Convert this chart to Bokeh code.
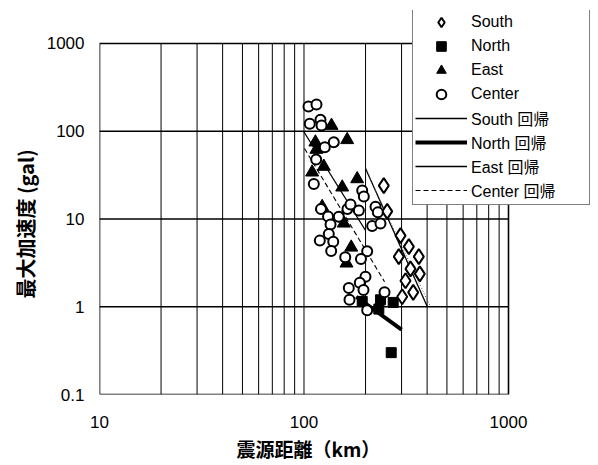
from bokeh.plotting import figure
from bokeh.models import FixedTicker, Legend, LegendItem, Title
from bokeh.embed import file_html
from bokeh.resources import INLINE

# ---- data ----
south_x = [245.6, 255.2, 296.5, 325.6, 364.3, 290.8, 331.7, 368.4, 313.5, 342.0, 302.1]
south_y = [24.0, 12.2, 6.47, 4.85, 3.73, 3.73, 2.70, 2.37, 1.98, 1.46, 1.30]

north_x = [192.6, 236.6, 232.2, 273.0, 267.0]
north_y = [1.15, 1.20, 0.94, 1.12, 0.30]

east_x = [136.3, 162.6, 113.7, 115.0, 125.0, 109.6, 153.8, 182.0, 122.7, 156.5, 170.2, 161.4]
east_y = [116.0, 79.8, 75.0, 61.8, 39.6, 34.1, 23.0, 28.6, 13.8, 8.93, 4.75, 3.13]

center_x = [105.2, 115.1, 106.7, 120.4, 121.8, 139.9, 126.4, 114.7, 111.7, 192.6,
            196.1, 121.1, 131.1, 163.2, 185.4, 148.0, 223.7, 229.6, 215.5, 236.6,
            134.8, 132.2, 119.5, 139.0, 135.8, 203.7, 189.9, 159.1, 199.8, 187.4,
            165.6, 195.4, 166.9, 203.7, 247.6, 168.8]
center_y = [191.3, 201.6, 121.5, 134.9, 116.1, 74.9, 65.7, 47.6, 25.1, 21.1,
            18.0, 13.0, 10.7, 13.0, 12.5, 10.6, 13.8, 11.9, 8.3, 8.86,
            8.63, 6.73, 5.67, 5.52, 4.31, 4.28, 3.51, 3.66, 2.20, 1.88,
            1.64, 1.55, 1.20, 0.91, 1.46, 14.6]

south_reg_x = [200, 401]
south_reg_y = [37.6, 1.0]
north_reg_x = [180, 300]
north_reg_y = [1.30, 0.55]
east_reg_x = [100, 200]
east_reg_y = [98, 7.4]
center_reg_x = [100.6, 247.6]
center_reg_y = [63.5, 1.93]
extra_dotted_x = [202, 415]
extra_dotted_y = [35, 1.0]

x_ticks = [10, 100, 1000]
x_minor = [20, 30, 40, 50, 60, 70, 80, 90, 200, 300, 400, 500, 600, 700, 800, 900]
y_ticks = [0.1, 1, 10, 100, 1000]
x_lim = [10, 1000]
y_lim = [0.1, 1000]

legend_labels = ["South", "North", "East", "Center",
                 "South 回帰", "North 回帰", "East 回帰", "Center 回帰"]

x_title = "震源距離（km）"
y_title = "最大加速度 (gal)"

# ---- figure ----
# the frame is extended to the upper right so that the legend (which sits partly
# outside the plotting box in the reference) is not clipped; the box itself is drawn.
p = figure(width=598, height=465, x_axis_type="log", y_axis_type="log",
           x_range=(10, 2575), y_range=(0.1, 2377),
           output_backend="svg", toolbar_location=None,
           min_border_left=99, min_border_right=6,
           min_border_top=10, min_border_bottom=71)
p.background_fill_color = "white"
p.border_fill_color = "white"
p.outline_line_color = None
p.xgrid.visible = False
p.ygrid.visible = False

p.xaxis.ticker = FixedTicker(ticks=x_ticks, minor_ticks=[])
p.yaxis.ticker = FixedTicker(ticks=y_ticks, minor_ticks=[])
p.xaxis.major_label_overrides = {10: "10", 100: "100", 1000: "1000"}
p.yaxis.major_label_overrides = {0.1: "0.1", 1: "1", 10: "10", 100: "100", 1000: "1000"}

for ax in (p.xaxis, p.yaxis):
    ax.major_tick_out = 0
    ax.major_tick_in = 0
    ax.minor_tick_out = 0
    ax.minor_tick_in = 0
    ax.axis_line_color = None
    ax.major_label_text_font = "Liberation Sans"
    ax.major_label_text_font_size = "17px"
    ax.major_label_text_color = "black"

p.xaxis.major_label_standoff = 21
p.yaxis.major_label_standoff = 15

p.add_layout(Title(text=x_title, align="left", offset=137, standoff=4,
                   text_font="Noto Sans CJK JP", text_font_size="19px",
                   text_font_style="bold", text_color="black"), "below")
p.add_layout(Title(text=y_title, align="left", offset=96, standoff=8,
                   text_font="Noto Sans CJK JP", text_font_size="20px",
                   text_font_style="bold", text_color="black"), "left")

# ---- grid and box ----
x_grid = x_ticks[1:-1] + x_minor
y_grid = y_ticks[1:-1]
p.segment(x0=x_grid, y0=[y_lim[0]] * len(x_grid), x1=x_grid, y1=[y_lim[1]] * len(x_grid),
          line_color="black", line_width=1)
p.segment(x0=[x_lim[0]] * len(y_grid), y0=y_grid, x1=[x_lim[1]] * len(y_grid), y1=y_grid,
          line_color="black", line_width=1.3)
p.quad(left=[x_lim[0]], right=[x_lim[1]], bottom=[y_lim[0]], top=[y_lim[1]],
       fill_color=None, line_color="black", line_width=1.6)

# ---- regression lines ----
r_sreg = p.line(south_reg_x, south_reg_y, line_color="black", line_width=1.3)
p.line(extra_dotted_x, extra_dotted_y, line_color="#555555", line_width=1, line_dash="1 2")
r_nreg = p.line(north_reg_x, north_reg_y, line_color="black", line_width=4)
r_ereg = p.line(east_reg_x, east_reg_y, line_color="black", line_width=1.3)
r_creg = p.line(center_reg_x, center_reg_y, line_color="black", line_width=1.1, line_dash="5 3")

# ---- points ----
r_s = p.scatter(south_x, south_y, marker="diamond", size=15, fill_color="white",
                line_color="black", line_width=2)
r_n = p.scatter(north_x, north_y, marker="square", size=10, fill_color="black",
                line_color="black")
r_e = p.scatter(east_x, east_y, marker="triangle", size=13, fill_color="black",
                line_color="black")
r_c = p.scatter(center_x, center_y, marker="circle", size=10, fill_color="white",
                line_color="black", line_width=2)

renderers = [r_s, r_n, r_e, r_c, r_sreg, r_nreg, r_ereg, r_creg]
items = [LegendItem(label=lab, renderers=[r]) for lab, r in zip(legend_labels, renderers)]
legend = Legend(items=items, location=(313, 189),
                glyph_width=52, glyph_height=24, label_height=24, spacing=0,
                padding=2, margin=0, label_standoff=4, label_width=116,
                label_text_font="Liberation Sans, Noto Sans CJK JP",
                label_text_font_size="16px", label_text_color="black",
                border_line_color="black", border_line_width=1.5,
                background_fill_color="white", background_fill_alpha=1.0)
p.add_layout(legend, "center")

open("out.html", "w").write(file_html(p, INLINE))
